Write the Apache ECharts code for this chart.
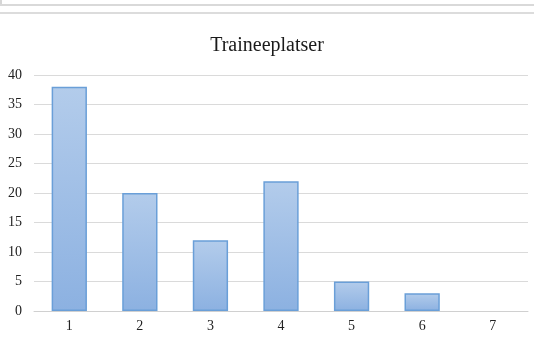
<!DOCTYPE html>
<html>
<head>
<meta charset="utf-8">
<script src="https://cdn.jsdelivr.net/npm/echarts@6/dist/echarts.min.js"></script>
<style>
  html, body { margin: 0; padding: 0; background: #fff; }
  #chart { width: 534px; height: 343px; }
</style>
</head>
<body>
<div id="chart"></div>
<script>
// Chart data
const chartTitle = 'Traineeplatser';
const categories = ['1', '2', '3', '4', '5', '6', '7'];
const values = [38, 20, 12, 22, 5, 3, 0];
const yTicks = { min: 0, max: 40, interval: 5 };

const serif = '"Liberation Serif", "DejaVu Serif", serif';

const chart = echarts.init(document.getElementById('chart'), null, { renderer: 'canvas' });

// zero-height bars get no outline
const barData = values.map(v => v === 0 ? { value: v, itemStyle: { borderWidth: 0 } } : v);

chart.setOption({
  animation: false,
  backgroundColor: '#ffffff',
  title: {
    text: chartTitle,
    left: 'center',
    top: 31,
    textStyle: { fontFamily: serif, fontSize: 20, fontWeight: 'normal', color: '#1a1a1a' }
  },
  // window frame lines above the chart
  graphic: [
    { type: 'rect', shape: { x: 0, y: 0, width: 2, height: 6 }, style: { fill: '#d6d6d6' } },
    { type: 'rect', shape: { x: 0, y: 4, width: 534, height: 2 }, style: { fill: '#d9d9d9' } },
    { type: 'rect', shape: { x: 0, y: 12, width: 534, height: 2 }, style: { fill: '#dcdcdc' } }
  ],
  grid: { left: 34, right: 6, top: 75, bottom: 32, containLabel: false },
  xAxis: {
    type: 'category',
    data: categories,
    axisLine: { show: true, lineStyle: { color: '#d0d0d0', width: 1 } },
    axisTick: { show: false },
    axisLabel: { fontFamily: serif, fontSize: 14, color: '#222', margin: 8 },
    splitLine: { show: false }
  },
  yAxis: {
    type: 'value',
    min: yTicks.min,
    max: yTicks.max,
    interval: yTicks.interval,
    axisLine: { show: false },
    axisTick: { show: false },
    axisLabel: { fontFamily: serif, fontSize: 14, color: '#222', margin: 12 },
    splitLine: { show: true, lineStyle: { color: '#dadada', width: 1 } }
  },
  series: [{
    type: 'bar',
    data: barData,
    barWidth: '50%',
    itemStyle: {
      color: new echarts.graphic.LinearGradient(0, 0, 0, 1, [
        { offset: 0, color: '#b3cceb' },
        { offset: 1, color: '#8cb1e1' }
      ]),
      borderColor: '#6a9fd8',
      borderWidth: 1.5
    }
  }]
});
</script>
</body>
</html>
